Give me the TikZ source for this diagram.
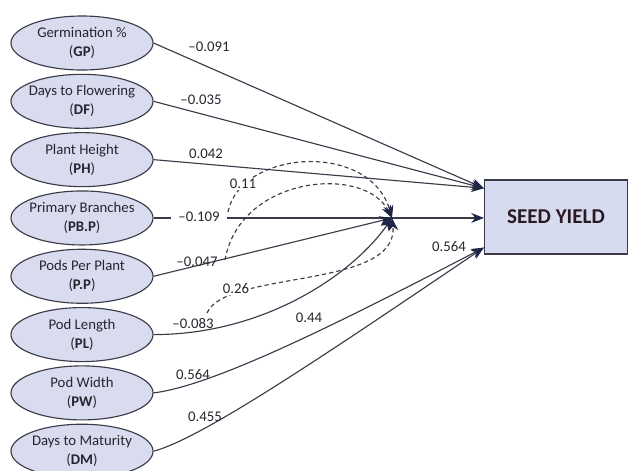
\documentclass[tikz,border=0pt]{standalone}
\usepackage{fontspec}
\setmainfont{Carlito}
\usepackage{tikz}
\usetikzlibrary{shapes.geometric,arrows.meta,positioning}
\definecolor{traitfill}{HTML}{D9DCEF}
\definecolor{boxfill}{HTML}{D6DBEF}
\definecolor{edgec}{HTML}{3A3A48}
\definecolor{tipc}{HTML}{1E2547}
\definecolor{inkc}{HTML}{26262E}
\definecolor{yieldink}{HTML}{2B1A22}

\begin{document}
\begin{tikzpicture}[x=0.025cm,y=0.025cm,node distance=1.4575cm,
    >={Stealth[length=9pt,width=7pt,color=tipc]}]
\tikzstyle{trait}=[draw=edgec,line width=0.8pt,fill=traitfill,ellipse,minimum width=3.55cm,minimum height=1.35cm,inner xsep=-3pt,inner ysep=0pt,align=center,text=inkc,font=\fontsize{10.5}{13.5}\selectfont]
\tikzstyle{coef}=[inner sep=1pt,text=inkc,font=\fontsize{10.5}{12}\selectfont]
\tikzstyle{link}=[draw=edgec,line width=0.8pt]
\tikzstyle{corr}=[link,dash pattern=on 3pt off 2.2pt]
\useasboundingbox[fill=white] (0,0) rectangle (629,-470);
\node [trait] (gp) at (82,-43) {Germination \%\\(\textbf{GP})};
\node [trait,below of = gp] (df) {Days to Flowering\\(\textbf{DF})};
\node [trait,below of = df] (ph) {Plant Height\\(\textbf{PH})};
\node [trait,below of = ph] (pbp) {Primary Branches\\(\textbf{PB.P})};
\node [trait,below of = pbp] (pp) {Pods Per Plant\\(\textbf{P.P})};
\node [trait,below of = pp] (pl) {Pod Length\\(\textbf{PL})};
\node [trait,below of = pl] (pw) {Pod Width\\(\textbf{PW})};
\node [trait,below of = pw] (dm) {Days to Maturity\\(\textbf{DM})};
\node [draw=edgec,line width=0.8pt,fill=boxfill,minimum width=3.575cm,minimum height=1.85cm,text=yieldink,font=\fontsize{15}{18}\selectfont\bfseries] (yield) at (556,-217) {SEED YIELD};
\coordinate (hub) at (392,-218);
\coordinate (upper) at ([yshift=-0.22cm]yield.north west);
\coordinate (lower) at ([yshift=0.175cm]yield.south west);
\coordinate (c11) at (228,-212);
\coordinate (cinner) at (225,-260);
\coordinate (c26) at (207,-313);
\draw[link,->] (gp.east) -- (upper);
\draw[link,->] (df.east) -- (upper);
\draw[link,->] (ph.east) -- (upper);
\draw[link,->] (pbp.east) -- (pbp.east -| yield.west);
\draw[link,->] (pp.east) -- (hub);
\draw[link,->] (pl.east) ..controls +(east:110) and +(235:70) .. (hub);
\draw[link,->] (pw.east) ..controls +(7:60) and +(207.5:168) .. (lower);
\draw[link,->] (dm.east) ..controls +(15:52) and +(214:182) .. (lower);
\draw[corr,->] (c11) ..controls +(79:63) and +(106:81) .. (hub);
\draw[corr,->] (cinner) ..controls +(80:86) and +(117:60) .. (hub);
\draw[corr,->] (c26) ..controls +(67:47) and +(-84:72) .. (hub);
\node[coef] (bgp) at (209,-47) {--0.091};
\node[coef] (bdf) at (201,-100) {--0.035};
\node[coef] (bph) at (206,-154) {0.042};
\node[coef,fill=white,inner xsep=5pt] (bpbp) at (199,-217) {--0.109};
\node[coef] (bpp) at (197,-262) {--0.047};
\node[coef] (bpl) at (193,-324) {--0.083};
\node[coef] (bpw) at (193,-375) {0.564};
\node[coef] (bdm) at (205,-417) {0.455};
\node[coef,fill=white] (r11) at (243,-184) {0.11};
\node[coef,fill=white] (r26) at (236,-289) {0.26};
\node[coef] (b44) at (309,-318) {0.44};
\node[coef] (bhub) at (449,-247) {0.564};
\end{tikzpicture}
\end{document}
